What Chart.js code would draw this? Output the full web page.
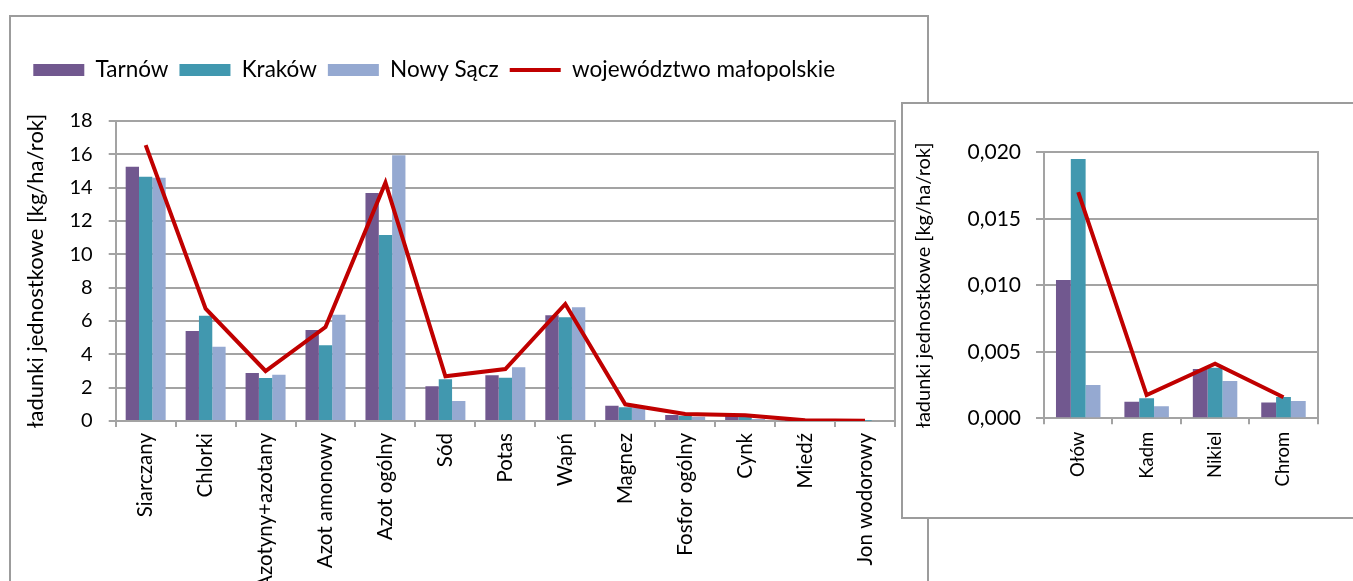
<!DOCTYPE html>
<html lang="pl">
<head>
<meta charset="utf-8">
<title>Ładunki jednostkowe</title>
<script src="https://cdn.jsdelivr.net/npm/chart.js@4.4.1/dist/chart.umd.min.js"></script>
<style>
  html, body { margin: 0; padding: 0; background: #fff; width: 1353px; height: 581px; overflow: hidden; }
  .frame { position: absolute; box-sizing: border-box; border: 2px solid #9c9c9c; background: #fff; }
  #mainFrame { left: 9px; top: 15px; width: 920px; height: 700px; }
  #insetFrame { left: 901px; top: 102px; width: 500px; height: 417px; }
  canvas { position: absolute; }
  #mainChart { left: 11px; top: 16px; }
  #insetChart { left: 903px; top: 104px; }
</style>
</head>
<body>
<div id="mainFrame" class="frame"></div>
<canvas id="mainChart" width="916" height="600"></canvas>
<div id="insetFrame" class="frame"></div>
<canvas id="insetChart" width="448" height="412"></canvas>
<script>
// Main components (kg/ha/rok)
const categories = ['Siarczany', 'Chlorki', 'Azotyny+azotany', 'Azot amonowy', 'Azot ogólny', 'Sód', 'Potas', 'Wapń', 'Magnez', 'Fosfor ogólny', 'Cynk', 'Miedź', 'Jon wodorowy'];
const tarnow      = [15.25, 5.40, 2.88, 5.46, 13.68, 2.08, 2.74, 6.34, 0.92, 0.36, 0.34, 0.02, 0.01];
const krakow      = [14.65, 6.32, 2.58, 4.54, 11.16, 2.50, 2.60, 6.22, 0.82, 0.32, 0.30, 0.02, 0.01];
const nowySacz    = [14.60, 4.46, 2.78, 6.38, 15.95, 1.20, 3.22, 6.82, 0.82, 0.26, 0.12, 0.02, 0.00];
const wojewodztwo = [16.55, 6.74, 3.00, 5.64, 14.30, 2.68, 3.12, 7.02, 1.00, 0.42, 0.34, 0.04, 0.02];

// Heavy metals (kg/ha/rok)
const metals          = ['Ołów', 'Kadm', 'Nikiel', 'Chrom'];
const tarnowMetals    = [0.0104, 0.00125, 0.0037, 0.00118];
const krakowMetals    = [0.0195, 0.00150, 0.0038, 0.00160];
const nowySaczMetals  = [0.0025, 0.00090, 0.0028, 0.00130];
const wojewodztwoMetals = [0.0170, 0.00175, 0.0041, 0.00158];

const seriesNames = ['Tarnów', 'Kraków', 'Nowy Sącz', 'województwo małopolskie'];
const axisTitle = 'ładunki jednostkowe [kg/ha/rok]';

const COLORS = { tarnow: '#71588f', krakow: '#4198af', nowySacz: '#95a9d1', line: '#c00000' };
const GRID = '#a3a3a3';

Chart.defaults.font.family = 'Lato, "Liberation Sans", sans-serif';
Chart.defaults.color = '#000';

// Closes the plot box on the right-hand side.
const plotFrame = {
  id: 'plotFrame',
  beforeDatasetsDraw(chart) {
    const { ctx, chartArea: a } = chart;
    const x = Math.round(a.right);
    ctx.save();
    ctx.strokeStyle = GRID;
    ctx.lineWidth = 2;
    ctx.beginPath();
    ctx.moveTo(x, Math.round(a.top) - 1);
    ctx.lineTo(x, Math.round(a.bottom) + 1);
    ctx.stroke();
    ctx.restore();
  }
};

// Leaves some room between the legend row and the plot.
const legendGap = {
  id: 'legendGap',
  beforeLayout(chart, args, opts) {
    const lg = chart.legend;
    if (lg && !lg._gapPatched) {
      const fit = lg.fit;
      lg.fit = function () { fit.call(this); this.height += opts.gap || 0; };
      lg._gapPatched = true;
    }
  }
};

function barSet(label, data, color, catPct) {
  return {
    label, data, backgroundColor: color, borderWidth: 0,
    pointStyle: 'rect', categoryPercentage: catPct, barPercentage: 1, order: 2
  };
}
function lineSet(label, data) {
  return {
    type: 'line', label, data,
    borderColor: COLORS.line, backgroundColor: COLORS.line, borderWidth: 4,
    borderJoinStyle: 'miter', tension: 0, fill: false,
    pointRadius: 0, pointHoverRadius: 0, pointHitRadius: 0,
    pointStyle: 'line', pointBorderWidth: 4, pointBorderColor: COLORS.line,
    order: 1
  };
}

function xScale(fontSize, pad, tickLen, height) {
  return {
    offset: true,
    grid: { display: true, drawOnChartArea: false, drawTicks: true, tickLength: tickLen, color: GRID, lineWidth: 2, offset: true },
    border: { display: true, color: GRID, width: 2 },
    ticks: { autoSkip: false, minRotation: 90, maxRotation: 90, padding: pad, font: { size: fontSize }, color: '#000' },
    afterFit(s) { s.height = height; }
  };
}

new Chart(document.getElementById('mainChart'), {
  type: 'bar',
  data: {
    labels: categories,
    datasets: [
      barSet(seriesNames[0], tarnow, COLORS.tarnow, 0.667),
      barSet(seriesNames[1], krakow, COLORS.krakow, 0.667),
      barSet(seriesNames[2], nowySacz, COLORS.nowySacz, 0.667),
      lineSet(seriesNames[3], wojewodztwo)
    ]
  },
  options: {
    responsive: false, animation: false, devicePixelRatio: 1,
    layout: { padding: { left: 11.3, top: 31.75, right: 32, bottom: 0 } },
    plugins: {
      legend: {
        position: 'top', align: 'start',
        labels: {
          usePointStyle: true, pointStyleWidth: 51, boxHeight: 12, padding: 11,
          color: '#000', font: { size: 22.5 },
          sort: (a, b) => a.datasetIndex - b.datasetIndex
        }
      },
      legendGap: { gap: 29.75 },
      tooltip: { enabled: false }
    },
    scales: {
      x: xScale(20.5, 6, 6, 195),
      y: {
        min: 0, max: 18,
        ticks: { stepSize: 2, padding: 16, font: { size: 20 }, color: '#000' },
        grid: { color: GRID, lineWidth: 2, tickLength: 7 },
        border: { display: true, color: GRID, width: 2 },
        title: { display: true, text: axisTitle, font: { size: 22 }, color: '#000', padding: { top: 0, bottom: 0 } },
        afterFit(s) { s.width = 93.4; }
      }
    }
  },
  plugins: [plotFrame, legendGap]
});

new Chart(document.getElementById('insetChart'), {
  type: 'bar',
  data: {
    labels: metals,
    datasets: [
      barSet(seriesNames[0], tarnowMetals, COLORS.tarnow, 0.65),
      barSet(seriesNames[1], krakowMetals, COLORS.krakow, 0.65),
      barSet(seriesNames[2], nowySaczMetals, COLORS.nowySacz, 0.65),
      lineSet(seriesNames[3], wojewodztwoMetals)
    ]
  },
  options: {
    responsive: false, animation: false, devicePixelRatio: 1,
    layout: { padding: { left: 0, top: 48.3, right: 33.3, bottom: 0 } },
    plugins: { legend: { display: false }, tooltip: { enabled: false } },
    scales: {
      x: xScale(18.5, 7.4, 6, 97.7),
      y: {
        min: 0, max: 0.02,
        ticks: {
          stepSize: 0.005, padding: 15, font: { size: 21 }, color: '#000',
          callback: v => v.toFixed(3).replace('.', ',')
        },
        grid: { color: GRID, lineWidth: 2, tickLength: 8 },
        border: { display: true, color: GRID, width: 2 },
        title: { display: true, text: axisTitle, font: { size: 20 }, color: '#000', padding: { top: 9, bottom: 0 } },
        afterFit(s) { s.width = 141; }
      }
    }
  },
  plugins: [plotFrame]
});
</script>
</body>
</html>
